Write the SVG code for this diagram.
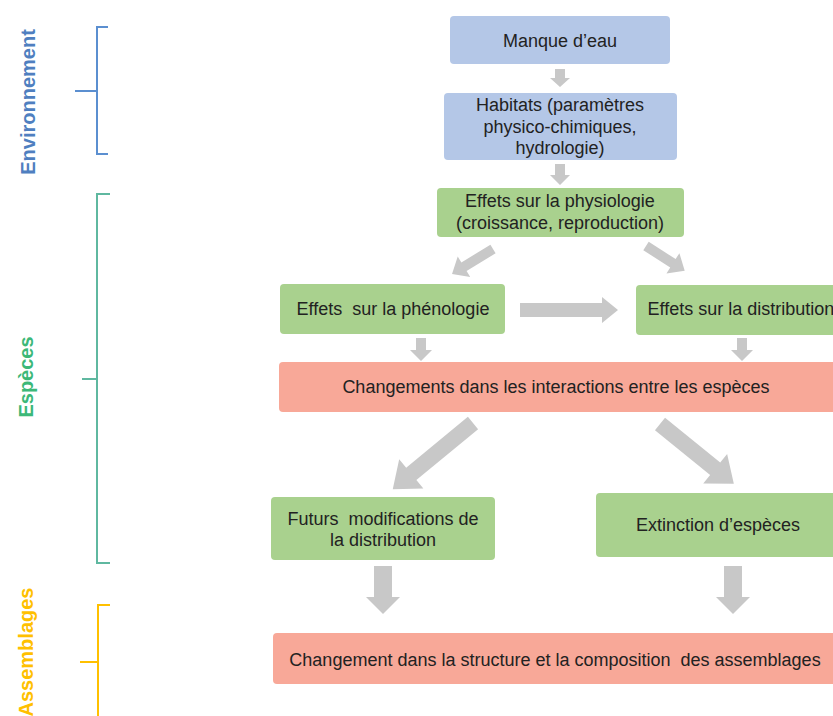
<svg xmlns="http://www.w3.org/2000/svg" width="833" height="716" viewBox="0 0 833 716">
<style>
.t{font-family:"Liberation Sans",Arial,sans-serif;font-size:18px;fill:#222;text-anchor:middle;white-space:pre}
.lab{font-family:"Liberation Sans",Arial,sans-serif;font-size:20px;font-weight:bold;text-anchor:middle}
.blue{fill:#b4c7e7}
.green{fill:#a9d18e}
.pink{fill:#f8a898}
.arr{fill:#c8c8c8}
.br{fill:none;stroke-width:2}
</style>
<rect width="833" height="716" fill="#ffffff"/>
<g id="labels">
<text class="lab" fill="#4f7fc0" transform="translate(35,102) rotate(-90)">Environnement</text>
<text class="lab" fill="#3cb878" transform="translate(33,377) rotate(-90)">Espèces</text>
<text class="lab" fill="#ffc000" transform="translate(33,652) rotate(-90)">Assemblages</text>
</g>
<g id="brackets">
<path class="br" stroke="#5b8fd0" d="M108,27 H97 V154 H108 M75,91 H97"/>
<path class="br" stroke="#5fb8a0" d="M110,194 H97 V563 H110 M82,379 H97"/>
<path class="br" stroke="#ffc000" d="M110,605 H98 V716 M80,662 H98"/>
</g>
<g id="connectors">
<polygon class="arr" points="555,69 565,69 565,78 570,78 560,87 550,78 555,78"/>
<polygon class="arr" points="555,164 565,164 565,175 570,175 560,185 550,175 555,175"/>
<polygon class="arr" points="0,-5 34,-5 34,-12 48,0 34,12 34,5 0,5" transform="translate(493,249) rotate(148.6)"/>
<polygon class="arr" points="0,-5 32,-5 32,-12 46,0 32,12 32,5 0,5" transform="translate(646,246) rotate(32.7)"/>
<polygon class="arr" points="520,303 602,303 602,297 618,310 602,323 602,317 520,317"/>
<polygon class="arr" points="416,338 426,338 426,350 432,350 421,361 410,350 416,350"/>
<polygon class="arr" points="737,338 747,338 747,350 753,350 742,361 731,350 737,350"/>
<polygon class="arr" points="0,-8 80,-8 80,-19 104,0 80,19 80,8 0,8" transform="translate(473,423) rotate(140.5)"/>
<polygon class="arr" points="0,-8 71,-8 71,-19 95,0 71,19 71,8 0,8" transform="translate(660,424) rotate(39)"/>
<polygon class="arr" points="374,566 392,566 392,597 400,597 383,614 366,597 374,597"/>
<polygon class="arr" points="724,566 742,566 742,597 750,597 733,614 716,597 724,597"/>
</g>
<g id="n1"><rect class="blue" x="450" y="16" width="220" height="48" rx="4"/><text class="t" x="560" y="47">Manque d’eau</text></g>
<g id="n2"><rect class="blue" x="444" y="93" width="233" height="67" rx="4"/><text class="t" x="560" y="111">Habitats (paramètres</text><text class="t" x="560" y="133">physico-chimiques,</text><text class="t" x="560" y="154">hydrologie)</text></g>
<g id="n3"><rect class="green" x="437" y="188" width="247" height="49" rx="4"/><text class="t" x="560" y="207">Effets sur la physiologie</text><text class="t" x="560" y="229">(croissance, reproduction)</text></g>
<g id="n4"><rect class="green" x="280" y="284" width="225" height="50" rx="4"/><text class="t" x="393" y="315">Effets  sur la phénologie</text></g>
<g id="n5"><rect class="green" x="636" y="285" width="212" height="50" rx="4"/><text class="t" x="741" y="315">Effets sur la distribution</text></g>
<g id="n6"><rect class="pink" x="279" y="362" width="559" height="50" rx="4"/><text class="t" x="556" y="393">Changements dans les interactions entre les espèces</text></g>
<g id="n7"><rect class="green" x="271" y="497" width="224" height="63" rx="4"/><text class="t" x="383" y="525">Futurs  modifications de</text><text class="t" x="383" y="546">la distribution</text></g>
<g id="n8"><rect class="green" x="596" y="493" width="244" height="64" rx="4"/><text class="t" x="718" y="531">Extinction d’espèces</text></g>
<g id="n9"><rect class="pink" x="273" y="633" width="564" height="51" rx="4"/><text class="t" x="555" y="666">Changement dans la structure et la composition  des assemblages</text></g>
</svg>
